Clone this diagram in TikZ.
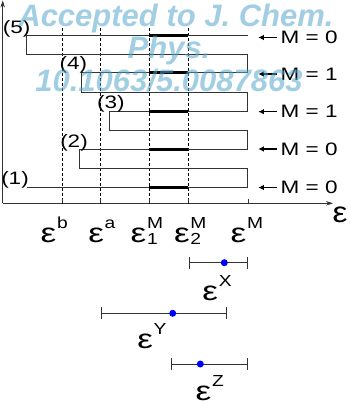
\documentclass[tikz,border=0pt]{standalone}
\usepackage{fontspec}
\setmainfont{Liberation Sans}
\usetikzlibrary{arrows.meta}
\newcommand\wide[1]{\scalebox{1.25}[1]{#1}}
\newcommand\epsglyph[1][27]{\scalebox{1.3}[1]{\fontsize{#1}{#1}\selectfont ε}}
\newcommand\scr[1]{\scalebox{1.2}[1]{\fontsize{16}{16}\selectfont #1}}
\newcommand\epslab[2]{\epsglyph\kern0.8pt\rlap{\raisebox{13.5pt}{\scr{#1}}}\raisebox{-2pt}{\scr{#2}}}
\begin{document}
\begin{tikzpicture}[x=1pt,y=-1pt,
  lvl/.style={draw=black!80, line width=0.9pt},
  thickseg/.style={line width=3pt, draw=black},
  dashv/.style={draw=black, dash pattern=on 3pt off 2pt, line width=0.75pt},
  axis/.style={line width=0.9pt, draw=black!80, -{Stealth[length=7pt,width=4.5pt]}},
  tick/.style={line width=0.9pt, draw=black!80},
  lab/.style={inner sep=0pt, font=\fontsize{18}{18}\selectfont},
  mlab/.style={inner sep=0pt, anchor=west, font=\fontsize{18}{18}\selectfont},
  marrow/.style={line width=1.1pt, -{Latex[length=5.5pt,width=5.5pt]}},
  elab/.style={inner sep=0pt, anchor=base west},
  errbar/.style={line width=0.9pt, draw=black!80, {Bar[width=12pt,line width=0.9pt]}-{Bar[width=12pt,line width=0.9pt]}},
  dot/.style={circle, fill=blue, inner sep=0pt, minimum size=7pt},
  wm/.style={inner sep=0pt, anchor=base, text=wmblue, opacity=0.55, font=\fontsize{31}{31}\selectfont\bfseries\itshape}
]
\definecolor{wmblue}{RGB}{85,165,205}
\useasboundingbox (0,0) rectangle (350,404);

% axes
\coordinate (O) at (2.7,203.3);
\coordinate (ytop) at (2.7,0.5);
\coordinate (xend) at (333,203.3);
\draw[axis] (O) -- (ytop);
\draw[axis] (O) -- (xend);
\node[elab] (eaxis) at (332.3,222.5) {\scalebox{1.15}[1]{\fontsize{29}{29}\selectfont ε}};

% dashed verticals and ticks
\foreach \n/\x in {b/62,a/100.7,m1/149,m2/188.3}{
  \coordinate (dt\n) at (\x,28);
  \coordinate (db\n) at (\x,203.3);
  \draw[dashv] (dt\n) -- (db\n);
}
\foreach \n/\x in {b/62,a/100.7,m1/149,m2/188.3,m/248.3}{
  \coordinate (ta\n) at (\x,203.3);
  \coordinate (tb\n) at (\x,199.3);
  \draw[tick] (ta\n) -- (tb\n);
}

% snake of levels
\draw[lvl] (26.7,187.3) -- (247.7,187.3) -- (247.7,168.3) -- (79.3,168.3) -- (79.3,149.7)
  -- (247.7,149.7) -- (247.7,130.7) -- (109.3,130.7) -- (109.3,111.7) -- (247.7,111.7)
  -- (247.7,92.3) -- (81,92.3) -- (81,72.7) -- (247.7,72.7) -- (247.7,54) -- (26.7,54)
  -- (26.7,35.7) -- (247.7,35.7);

% thick segments
\foreach \y in {35.7,72.7,111.7,149.7,187.3}{
  \draw[thickseg] (149,\y) -- (188.3,\y);
}

% level labels
\node[lab] (l5) at (16.7,29) {\wide{(5)}};
\node[lab] (l4) at (73.3,65) {\wide{(4)}};
\node[lab] (l3) at (110.8,103.7) {\wide{(3)}};
\node[lab] (l2) at (74,142.5) {\wide{(2)}};
\node[lab] (l1) at (15,179.5) {\wide{(1)}};

% M labels with arrows
\foreach \n/\y/\m in {5/37.5/0,4/74/1,3/111.7/1,2/149/0,1/187.5/0}{
  \node[mlab] (m\n) at (280.5,\y) {\wide{M = \m}};
  \coordinate (a\n) at (258.3,\y);
  \draw[marrow] ([xshift=-3.8pt]m\n.west) -- (a\n);
}

% epsilon axis labels
\node[elab] (eb) at (40.5,242) {\epslab{b}{}};
\node[elab] (ea) at (88.1,242) {\epslab{a}{}};
\node[elab] (e1) at (130.5,242) {\epslab{M}{1}};
\node[elab] (e2) at (173.8,242) {\epslab{M}{2}};
\node[elab] (eM) at (230.5,242) {\epslab{M}{}};

% error bars
\coordinate (xl) at (189,262.7); \coordinate (xr) at (248.3,262.7);
\draw[errbar] (xl) -- (xr);
\node[dot] (xd) at (224.3,262.7) {};
\node[elab] (ex) at (202.1,300) {\epslab{X}{}};

\coordinate (yl) at (100.7,313.3); \coordinate (yr) at (226.7,313.3);
\draw[errbar] (yl) -- (yr);
\node[dot] (yd) at (172.7,313.3) {};
\node[elab] (ey) at (137.1,348.3) {\epslab{Y}{}};

\coordinate (zl) at (170.7,364); \coordinate (zr) at (248.3,364);
\draw[errbar] (zl) -- (zr);
\node[dot] (zd) at (200.3,364) {};
\node[elab] (ez) at (195.5,400) {\epslab{Z}{}};

% watermark
\node[wm] (w1) at (176,27) {Accepted to J. Chem.};
\node[wm] (w2) at (169,59) {Phys.};
\node[wm] (w3) at (169,91) {10.1063/5.0087863};
\end{tikzpicture}
\end{document}
